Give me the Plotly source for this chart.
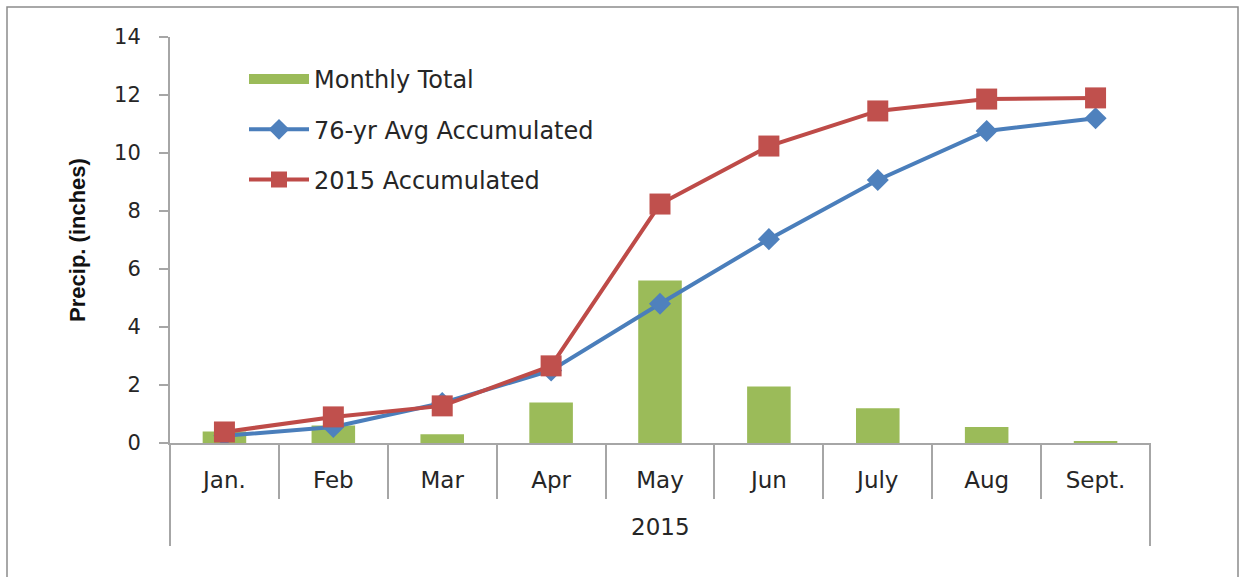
import plotly.graph_objects as go

months = ["Jan.", "Feb", "Mar", "Apr", "May", "Jun", "July", "Aug", "Sept."]
group_label = "2015"
monthly_total = [0.4, 0.6, 0.3, 1.4, 5.6, 1.95, 1.2, 0.55, 0.05]
avg_accum = [0.25, 0.55, 1.38, 2.5, 4.8, 7.03, 9.07, 10.76, 11.2]
accum_2015 = [0.38, 0.9, 1.28, 2.66, 8.24, 10.24, 11.45, 11.86, 11.9]

GREEN, BLUE, RED = "#9BBB59", "#4F81BD", "#C0504D"

fig = go.Figure()
fig.add_trace(go.Bar(x=months, y=monthly_total, name="Monthly Total",
                     legendgroup="a", showlegend=False,
                     marker=dict(color=GREEN, line=dict(width=0))))
# legend swatch for the bars (wide rectangle like the original)
fig.add_trace(go.Scatter(x=[None], y=[None], name="Monthly Total", legendgroup="a",
                         mode="lines", line=dict(color=GREEN, width=16)))
fig.add_trace(go.Scatter(x=months, y=avg_accum, name="76-yr Avg Accumulated",
                         legendgroup="b", mode="lines+markers",
                         line=dict(color="#4A7EBB", width=4),
                         marker=dict(symbol="diamond", size=17, color=BLUE)))
fig.add_trace(go.Scatter(x=months, y=accum_2015, name="2015 Accumulated",
                         legendgroup="c", mode="lines+markers",
                         line=dict(color="#BE4B48", width=4),
                         marker=dict(symbol="square", size=21, color=RED)))

L, R, T, B = 170, 95, 37, 134
W, H = 1245, 577
pw, ph = W - L - R, H - T - B

def px(xp):
    return (xp - L) / pw

def py(yp):
    return (H - B - yp) / ph

AX = "#A6A6A6"
TXT = "#262626"

fig.update_layout(
    width=W, height=H,
    margin=dict(l=L, r=R, t=T, b=B, autoexpand=False),
    paper_bgcolor="white", plot_bgcolor="white",
    bargap=0.6,
    font=dict(family="DejaVu Sans", size=20, color=TXT),
    showlegend=True,
    legend=dict(x=px(244), y=py(57), xanchor="left", yanchor="top",
                bgcolor="rgba(0,0,0,0)", font=dict(size=24, family="DejaVu Sans", color=TXT),
                traceorder="grouped", tracegroupgap=16, itemwidth=60),
    xaxis=dict(type="category", range=[-0.5, len(months) - 0.5],
               showline=True, linecolor=AX, linewidth=2,
               ticks="outside", tickson="boundaries", ticklen=54, tickcolor=AX,
               tickwidth=2, ticklabelstandoff=15,
               tickfont=dict(size=23, family="DejaVu Sans", color=TXT),
               showgrid=False, automargin=False),
    yaxis=dict(range=[0, 14], dtick=2, showline=True, linecolor=AX, linewidth=2,
               ticks="outside", ticklen=9, tickcolor=AX, tickwidth=2, showgrid=False,
               zeroline=False, ticklabelstandoff=14, automargin=False,
               tickfont=dict(size=21, family="DejaVu Sans", color=TXT),
               title=dict(text="Precip. (inches)", standoff=22,
                          font=dict(size=22, family="Liberation Sans", color="#111111",
                                    weight="bold"))),
    shapes=[
        dict(type="rect", xref="paper", yref="paper",
             x0=px(7), x1=px(1238), y0=py(600), y1=py(7),
             line=dict(color="#8C8C8C", width=1.5), fillcolor="rgba(0,0,0,0)",
             layer="below"),
        dict(type="line", xref="paper", yref="paper", x0=0, x1=0, y0=0, y1=py(546),
             line=dict(color=AX, width=2)),
        dict(type="line", xref="paper", yref="paper", x0=1, x1=1, y0=0, y1=py(546),
             line=dict(color=AX, width=2)),
    ],
    annotations=[dict(text=group_label, xref="paper", yref="paper", x=0.5, y=py(527),
                      xanchor="center", yanchor="middle", showarrow=False,
                      font=dict(size=23, family="DejaVu Sans", color=TXT))],
)

fig.write_html("out.html", config={"displayModeBar": False},
               post_script="document.body.style.margin='0';")
